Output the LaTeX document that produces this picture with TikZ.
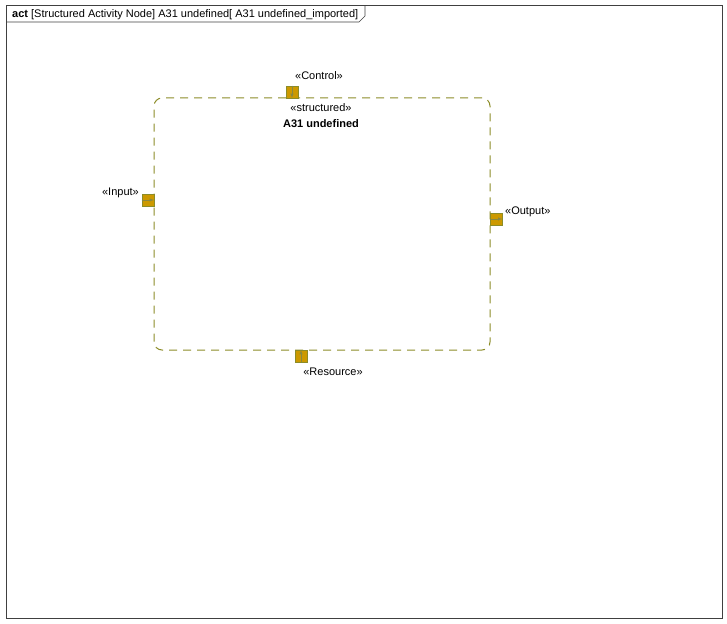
\documentclass[tikz,border=0pt]{standalone}
\usepackage{fontspec}
\setmainfont{Liberation Sans}
\usepackage{xcolor}
\usetikzlibrary{positioning, arrows}

\definecolor{framegray}{RGB}{64,64,64}
\definecolor{olive}{RGB}{140,140,40}
\definecolor{pingold}{RGB}{204,153,0}

\begin{document}
\begin{tikzpicture}[
            x=1pt, y=-1pt,
            font=\fontsize{11}{13}\selectfont,
            pin/.style={rectangle, draw=olive, fill=pingold, minimum width=12pt, minimum height=12pt, inner sep=0pt},
            pinarrow/.style={draw=olive!70!gray, line width=0.5pt, -latex},
            stereo/.style={inner sep=0pt},
        ]
            \useasboundingbox (0,0) rectangle (727,623);
            % frame
            \draw[framegray, line width=1pt] (6,6) rectangle (722,618);
            \draw[framegray, line width=0.7pt] (6,22) -- (359,22) -- (365,16) -- (365,6);
            \node[stereo, anchor=base west] (title) at (12,18) {\textbf{act} [Structured Activity Node] A31 undefined[ A31 undefined\_imported]};

            % structured activity node
            \node[draw=olive, dash pattern=on 8pt off 6pt, line width=1pt, rounded corners=8pt,
                  minimum width=336pt, minimum height=252pt] (A31) at (322,224) {};
            \node[stereo, anchor=base] (structured) at (321,111) {«structured»};
            \node[stereo, anchor=base] (name) at (321,128) {\textbf{A31 undefined}};

            % pins
            \node[pin, anchor=south] (control) at (292,98) {};
            \node[pin, anchor=east] (input) at (154,200) {};
            \node[pin, anchor=west] (output) at (490,219) {};
            \node[pin, anchor=north] (resource) at (301,350) {};

            \draw[pinarrow] (control.north) -- (control.south);
            \draw[pinarrow] (input.west) -- (input.east);
            \draw[pinarrow] (output.west) -- (output.east);
            \draw[pinarrow] (resource.south) -- (resource.north);

            % pin labels
            \node[stereo, anchor=base] (controllabel) at (319,80) {«Control»};
            \node[stereo, anchor=base east] (inputlabel) at (139,195) {«Input»};
            \node[stereo, anchor=base west] (outputlabel) at (505,214) {«Output»};
            \node[stereo, anchor=base] (resourcelabel) at (333,375) {«Resource»};
        \end{tikzpicture}
\end{document}
